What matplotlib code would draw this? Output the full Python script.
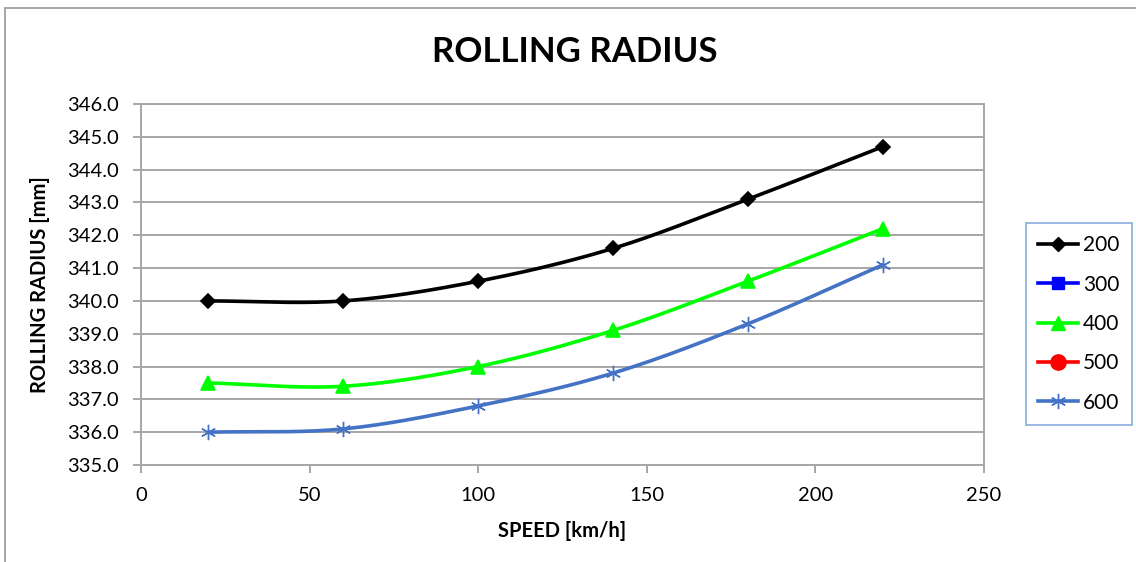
import numpy as np
import matplotlib.pyplot as plt
from matplotlib.lines import Line2D

plt.rcParams['font.family'] = ['Lato', 'DejaVu Sans']

speed = [20, 60, 100, 140, 180, 220]
r200 = [340.0, 340.0, 340.6, 341.6, 343.1, 344.7]
r300 = []
r400 = [337.5, 337.4, 338.0, 339.1, 340.6, 342.2]
r500 = []
r600 = [336.0, 336.1, 336.8, 337.8, 339.3, 341.1]

labels = ["200", "300", "400", "500", "600"]
colors = ["black", "#0000FF", "#00FF00", "#FF0000", "#4472C4"]
markers = ["D", "s", "^", "o", (6, 2, 0)]
msizes = [7.5, 9, 10, 11, 11]


def smooth(x, y, n=30):
    # Catmull-Rom through the points, like Excel's smoothed line
    x = np.asarray(x, float)
    y = np.asarray(y, float)
    if len(x) < 3:
        return x, y
    px = np.concatenate([[2 * x[0] - x[1]], x, [2 * x[-1] - x[-2]]])
    py = np.concatenate([[2 * y[0] - y[1]], y, [2 * y[-1] - y[-2]]])
    xs, ys = [], []
    t = np.linspace(0, 1, n)
    for i in range(1, len(px) - 2):
        for p, out in ((px, xs), (py, ys)):
            p0, p1, p2, p3 = p[i - 1], p[i], p[i + 1], p[i + 2]
            out.extend(0.5 * ((2 * p1) + (-p0 + p2) * t
                              + (2 * p0 - 5 * p1 + 4 * p2 - p3) * t ** 2
                              + (-p0 + 3 * p1 - 3 * p2 + p3) * t ** 3))
    return np.array(xs), np.array(ys)


fig = plt.figure(figsize=(11.36, 5.62), dpi=100)
ax = fig.add_axes([0.1241, 0.1726, 0.742, 0.6423])

series = [r200, r300, r400, r500, r600]
for vals, lab, c, m, ms in zip(series, labels, colors, markers, msizes):
    if vals:
        sx, sy = smooth(speed, vals)
        ax.plot(sx, sy, color=c, lw=2.6, solid_capstyle='round')
        ax.plot(speed, vals, ls='none', marker=m, color=c, ms=ms,
                markeredgewidth=1.2 if m != (6, 2, 0) else 1.0)

ax.set_xlim(0, 250)
ax.set_ylim(335, 346)
ax.set_xticks(range(0, 251, 50))
ax.set_yticks(np.arange(335, 346.1, 1))
ax.set_yticklabels([f"{v:.1f}" for v in np.arange(335, 346.1, 1)])
ax.grid(axis='y', color='#A6A6A6', lw=1.4)
ax.set_axisbelow(True)
for s in ax.spines.values():
    s.set_color('#A6A6A6')
    s.set_linewidth(1.4)
ax.tick_params(axis='both', colors='#A6A6A6', labelcolor='black', labelsize=14.5,
               length=6, width=1.4)
ax.tick_params(axis='y', pad=10)
ax.tick_params(axis='x', pad=10)

ax.set_xlabel("SPEED [km/h]", fontsize=14.5, fontweight='bold', labelpad=12)
ax.set_ylabel("ROLLING RADIUS [mm]", fontsize=14.5, fontweight='bold', labelpad=12)
fig.text(0.506, 0.907, "ROLLING RADIUS", ha='center', va='center',
         fontsize=25, fontweight='bold')

handles = [Line2D([], [], color=c, lw=2.6, marker=m, ms=ms)
           for c, m, ms in zip(colors, markers, msizes)]
leg = fig.legend(handles, labels, loc='center left',
                 bbox_to_anchor=(0.903, 0.4235), fontsize=15, frameon=True,
                 fancybox=False, borderpad=0.6, labelspacing=0.93,
                 handlelength=1.9, handletextpad=0.25, borderaxespad=0)
leg.get_frame().set_edgecolor('#7FA7D9')
leg.get_frame().set_linewidth(1.4)

# outer chart border
fig.add_artist(Line2D([0.0044, 0.0044], [0, 0.9858], color='#A6A6A6', lw=1.4))
fig.add_artist(Line2D([0.0044, 1], [0.9858, 0.9858], color='#A6A6A6', lw=1.4))

fig.savefig("out.png", dpi=100)
